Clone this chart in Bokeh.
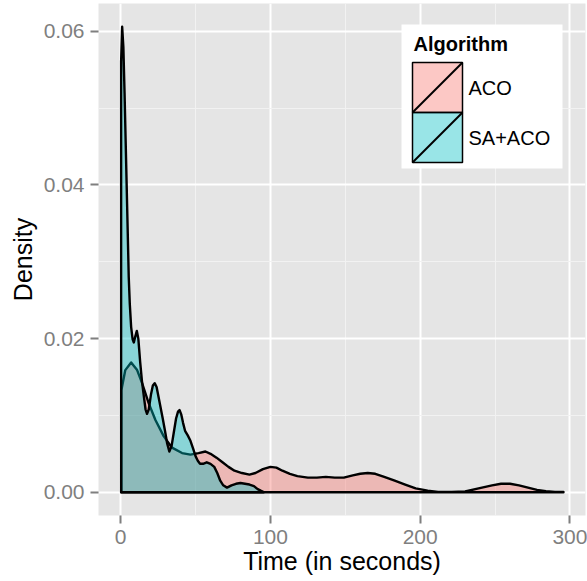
from bokeh.plotting import figure
from bokeh.models import Range1d, FixedTicker, PrintfTickFormatter
from bokeh.core.properties import value
from bokeh.embed import file_html
from bokeh.resources import INLINE

# Kernel density estimates of run time per algorithm (time in seconds, density)
aco_time = [0.5, 3.1, 7.0, 11.0, 14.3, 18.7, 23.2, 28.7, 34.3, 41.0, 46.6, 52.0,
            56.6, 60.0, 64.0, 68.0, 72.0, 76.0, 81.0, 86.0, 90.0, 95.0, 100.0,
            104.0, 108.0, 113.0, 118.0, 125.0, 131.0, 137.0, 143.0, 149.0, 155.0,
            160.0, 165.0, 170.0, 176.0, 183.0, 190.0, 197.0, 205.0, 212.0, 221.0,
            230.0, 239.0, 248.0, 254.0, 260.0, 266.0, 272.0, 278.0, 284.0, 290.0,
            295.7]
aco_density = [0.0133, 0.0159, 0.0169, 0.0159, 0.0142, 0.0116, 0.0094, 0.0073,
               0.0058, 0.0051, 0.0049, 0.0051, 0.0053, 0.0050, 0.0045, 0.0039,
               0.0033, 0.0028, 0.0025, 0.0023, 0.0025, 0.0030, 0.0033, 0.0032,
               0.0028, 0.0024, 0.0021, 0.0019, 0.0019, 0.0020, 0.0019, 0.0019,
               0.0022, 0.0024, 0.0025, 0.0024, 0.0020, 0.0015, 0.0010, 0.0005,
               0.0002, 0.00005, 0.00003, 0.0001, 0.0005, 0.0009, 0.0011, 0.0011,
               0.0009, 0.0006, 0.0003, 0.00015, 0.00005, 0.00002]

sa_aco_time = [0.3, 1.0, 1.8, 2.6, 3.3, 4.0, 4.7, 5.4, 6.1, 7.0, 8.0, 8.8, 9.8,
               10.8, 11.8, 13.0, 14.2, 15.4, 16.6, 17.6, 18.8, 20.3, 21.5, 22.7,
               24.0, 25.3, 26.5, 28.0, 29.5, 31.0, 32.5, 34.0, 35.5, 37.0, 38.3,
               39.3, 40.5, 41.7, 43.0, 44.8, 46.6, 48.5, 50.0, 51.5, 53.0, 55.0,
               57.5, 60.0, 62.5, 64.5, 66.5, 68.5, 71.0, 74.0, 77.0, 80.0, 83.0,
               86.0, 89.0, 91.5, 93.5, 95.5]
sa_aco_density = [0.0560, 0.0606, 0.0580, 0.0520, 0.0460, 0.0400, 0.0340, 0.0280,
                  0.0245, 0.0215, 0.0199, 0.0195, 0.0203, 0.0210, 0.0200, 0.0170,
                  0.0145, 0.0126, 0.0108, 0.0102, 0.0108, 0.0128, 0.0139, 0.0142,
                  0.0137, 0.0124, 0.0112, 0.0097, 0.0081, 0.0064, 0.0053, 0.0060,
                  0.0078, 0.0096, 0.0105, 0.0107, 0.0101, 0.0090, 0.0080, 0.0074,
                  0.0067, 0.0056, 0.0047, 0.0041, 0.0037, 0.0037, 0.0039, 0.0037,
                  0.0033, 0.0025, 0.0015, 0.0009, 0.0006, 0.0009, 0.0011, 0.0012,
                  0.0011, 0.0010, 0.0008, 0.0004, 0.0002, 0.00003]

algorithms = ["ACO", "SA+ACO"]
fill_colors = ["#F8766D", "#00BFC4"]
x_ticks = [0, 100, 200, 300]
x_minor = [50, 150, 250]
y_ticks = [0.00, 0.02, 0.04, 0.06]
y_minor = [0.01, 0.03, 0.05]

FONT = "Liberation Sans"
W, H = 587, 581
B_LEFT, B_RIGHT, B_TOP, B_BOTTOM = 98, 2, 3, 66
X0, X1 = -14.8, 310.4
Y0, Y1 = -0.00303, 0.06363
FRAME_W = W - B_LEFT - B_RIGHT
FRAME_H = H - B_TOP - B_BOTTOM

p = figure(width=W, height=H, x_range=Range1d(X0, X1), y_range=Range1d(Y0, Y1),
           output_backend="svg", toolbar_location=None,
           min_border_left=B_LEFT, min_border_right=B_RIGHT,
           min_border_top=B_TOP, min_border_bottom=B_BOTTOM)

p.background_fill_color = "#E5E5E5"
p.border_fill_color = "white"
p.outline_line_color = None

p.xaxis.ticker = FixedTicker(ticks=x_ticks, minor_ticks=x_minor)
p.yaxis.ticker = FixedTicker(ticks=y_ticks, minor_ticks=y_minor)
p.yaxis.formatter = PrintfTickFormatter(format="%.2f")

for g in (p.xgrid[0], p.ygrid[0]):
    g.grid_line_color = "white"
    g.grid_line_width = 2
    g.minor_grid_line_color = "#F2F2F2"
    g.minor_grid_line_width = 1

for ax in (p.xaxis[0], p.yaxis[0]):
    ax.axis_line_color = None
    ax.major_tick_line_color = "#7F7F7F"
    ax.major_tick_line_width = 2
    ax.major_tick_in = 0
    ax.major_tick_out = 8
    ax.minor_tick_in = 0
    ax.minor_tick_out = 0
    ax.major_label_text_color = "#7F7F7F"
    ax.major_label_text_font = FONT
    ax.major_label_text_font_size = "21px"
    ax.major_label_standoff = 6
    ax.axis_label_text_font = FONT
    ax.axis_label_text_font_size = "25px"
    ax.axis_label_text_font_style = "normal"
    ax.axis_label_text_color = "black"

p.xaxis.axis_label = "Time (in seconds)"
p.yaxis.axis_label = "Density"
p.xaxis.axis_label_standoff = 0
p.yaxis.axis_label_standoff = 4

# density areas, closed down to the baseline
series = [(aco_time, aco_density), (sa_aco_time, sa_aco_density)]
for (xs, ys), color in zip(series, fill_colors):
    px = [xs[0]] + list(xs) + [xs[-1]]
    py = [0.0] + list(ys) + [0.0]
    p.patch(px, py, fill_color=color, fill_alpha=0.4,
            line_color="black", line_width=2.4, line_join="round")


# legend, laid out in pixels relative to the canvas
def fx(px):
    return X0 + (px - B_LEFT) * (X1 - X0) / FRAME_W


def fy(py):
    return Y1 - (py - B_TOP) * (Y1 - Y0) / FRAME_H


p.quad(left=[fx(401)], right=[fx(562)], top=[fy(24)], bottom=[fy(168)],
       fill_color="white", line_color=None)
p.text(x=[fx(413)], y=[fy(43)], text=["Algorithm"], text_font=value(FONT),
       text_font_size=value("20px"), text_font_style="bold",
       text_baseline="middle", text_align="left", text_color="black")

key_l, key_r, key_t, key_h = 412, 462, 62, 50
for i, (name, color) in enumerate(zip(algorithms, fill_colors)):
    t = key_t + i * key_h
    b = t + key_h
    p.quad(left=[fx(key_l)], right=[fx(key_r)], top=[fy(t)], bottom=[fy(b)],
           fill_color=color, fill_alpha=0.4, line_color="black", line_width=1.5)
    p.segment(x0=[fx(key_l)], y0=[fy(b)], x1=[fx(key_r)], y1=[fy(t)],
              line_color="black", line_width=2)
    p.text(x=[fx(468)], y=[fy((t + b) / 2)], text=[name], text_font=value(FONT),
           text_font_size=value("20px"), text_baseline="middle",
           text_align="left", text_color="black")

open("out.html", "w").write(file_html(p, INLINE))
